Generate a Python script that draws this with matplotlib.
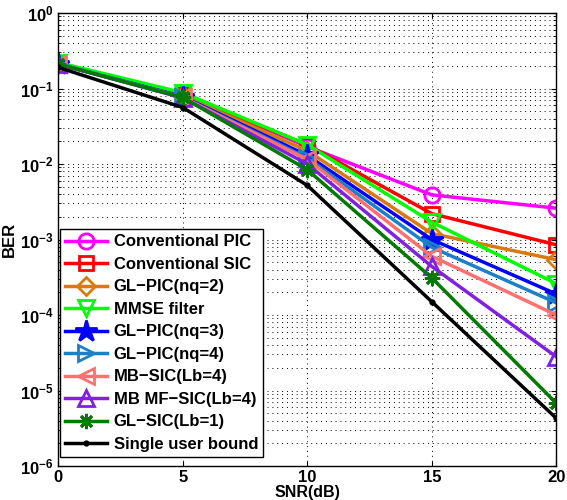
import matplotlib.pyplot as plt
from matplotlib.ticker import NullFormatter

plt.rcParams['font.family'] = ['Liberation Sans', 'DejaVu Sans']
plt.rcParams['font.weight'] = 'bold'

snr = [0, 5, 10, 15, 20]

conv_pic = [0.21, 0.085, 0.017, 0.0039, 0.0026]
conv_sic = [0.21, 0.082, 0.018, 0.0022, 0.00085]
gl_pic2 = [0.21, 0.080, 0.015, 0.0012, 0.00054]
mmse = [0.22, 0.088, 0.018, 0.0017, 0.00026]
gl_pic3 = [0.21, 0.078, 0.013, 0.00100, 0.00019]
gl_pic4 = [0.21, 0.077, 0.012, 0.00079, 0.000145]
mb_sic = [0.21, 0.076, 0.0115, 0.00060, 0.000100]
mb_mf_sic = [0.21, 0.075, 0.0100, 0.00044, 0.000028]
gl_sic = [0.21, 0.076, 0.0084, 0.00031, 0.0000068]
single_user = [0.19, 0.056, 0.0052, 0.00015, 0.0000043]

labels = ['Conventional PIC', 'Conventional SIC', 'GL\u2212PIC(nq=2)', 'MMSE filter',
          'GL\u2212PIC(nq=3)', 'GL\u2212PIC(nq=4)', 'MB\u2212SIC(Lb=4)',
          'MB MF\u2212SIC(Lb=4)', 'GL\u2212SIC(Lb=1)', 'Single user bound']
series = [conv_pic, conv_sic, gl_pic2, mmse, gl_pic3, gl_pic4, mb_sic,
          mb_mf_sic, gl_sic, single_user]
colors = ['#FF00FF', '#FF0000', '#D97A10', '#00FF00', '#0000FF', '#1A80C8',
          '#FF7070', '#8020E0', '#007A00', '#000000']
markers = ['o', 's', 'D', 'v', '*', '>', '<', '^', (8, 2, 0), '.']
sizes = [11, 10, 9, 12, 16, 12, 12, 12, 11, 5]

fig = plt.figure(figsize=(5.67, 5.0), dpi=100)
ax = fig.add_axes([0.103, 0.068, 0.878, 0.906])

for y, lab, c, m, s in zip(series, labels, colors, markers, sizes):
    filled = m in ('*', '.')
    ax.semilogy(snr, y, color=c, marker=m, markersize=s, linewidth=2.5,
                markerfacecolor=c if filled else 'none', markeredgecolor=c,
                markeredgewidth=2.0, label=lab)

# decades shown on the BER axis
decades = range(-6, 1)
ax.set_xlim(0, 20)
ax.set_ylim(1e-6, 1)
ax.set_xticks(snr)
ax.set_yticks([10.0 ** k for k in decades])
ax.set_yticks([m * 10.0 ** k for k in decades[:-1] for m in range(2, 10)], minor=True)
ax.yaxis.set_minor_formatter(NullFormatter())

dots = (0, (1, 4))
ax.grid(True, which='major', linestyle=dots, color='black', linewidth=0.7)
ax.grid(True, which='minor', axis='y', linestyle=dots, color='black', linewidth=0.7)
ax.tick_params(which='both', direction='in', top=True, right=True, labelsize=12)
ax.tick_params(axis='x', pad=3)
for sp in ax.spines.values():
    sp.set_linewidth(1.0)

ax.set_xlabel('SNR(dB)', fontsize=11.5, fontweight='bold', va='center')
ax.xaxis.set_label_coords(0.5, -0.058)
ax.set_ylabel('BER', fontsize=12, fontweight='bold', labelpad=2)

leg = ax.legend(loc='lower left', bbox_to_anchor=(0.004, 0.02), fontsize=12,
                handlelength=2.5, borderaxespad=0, labelspacing=0.45,
                fancybox=False, framealpha=1, edgecolor='black',
                borderpad=0.3, handletextpad=0.4)
leg.get_frame().set_linewidth(1.0)
for t in leg.get_texts():
    t.set_fontweight('bold')

plt.savefig('out.png', dpi=100)
